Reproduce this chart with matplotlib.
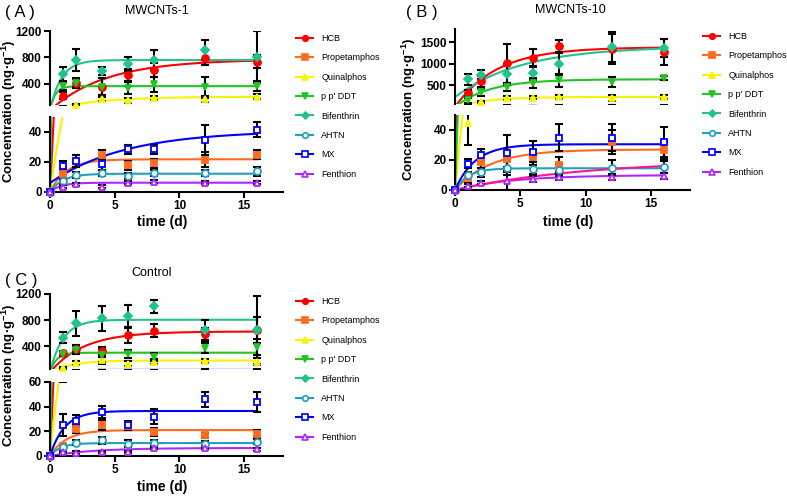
import numpy as np
import matplotlib
matplotlib.use("Agg")
from matplotlib import pyplot as plt
from matplotlib.lines import Line2D

plt.rcParams['font.family'] = ['Liberation Sans', 'DejaVu Sans']
plt.rcParams['mathtext.fontset'] = 'custom'
plt.rcParams['mathtext.rm'] = 'Liberation Sans:bold'
plt.rcParams['mathtext.default'] = 'rm'

days = [0, 1, 2, 4, 6, 8, 12, 16]
compounds = ["HCB", "Propetamphos", "Quinalphos", "p p' DDT", "Bifenthrin", "AHTN", "MX", "Fenthion"]

# panel A (MWCNTs-1), one row per compound
a_means = [[0, 222, 418, 360, 533, 609, 795, 735],
           [0, 12, 21, 24.9, 18, 19.2, 21.5, 25],
           [0, 60, 80, 171, 151, 192, 171, 206],
           [0, 367, 410, 360, 342, 393, 350, 367],
           [0, 548, 760, 600, 700, 760, 915, 810],
           [0, 7.5, 11.3, 12.4, 10.4, 12.4, 12.4, 13.8],
           [0, 17.6, 20.6, 18.8, 28.5, 28.5, 34.6, 41.4],
           [0, 3.4, 5.2, 3.6, 6.1, 6.8, 6.3, 6.3]]
a_errs = [[0, 50, 70, 130, 90, 110, 110, 100],
          [0, 4, 4, 3, 3, 3, 5, 3],
          [0, 8, 20, 30, 40, 30, 50, 40],
          [0, 60, 70, 130, 90, 110, 160, 80],
          [0, 100, 160, 60, 100, 150, 150, 390],
          [0, 2, 2, 2, 2, 2, 2, 3],
          [0, 3, 4, 4, 3, 3, 10, 5],
          [0, 1, 1, 1, 1, 1, 1, 1]]
# fitted first-order curves: (start, plateau, rate)
a_fit = [(0, 770, 0.23), (0, 21.8, 0.8), (0, 205, 0.29), (0, 365, 2.5),
         (0, 760, 1.15), (0, 12.2, 1.0), (6, 41, 0.173), (0, 6.2, 1.2)]

# panel B (MWCNTs-10)
b_means = [[0, 323, 592, 1008, 1138, 1400, 1346, 1270],
           [0, 8, 19, 20.5, 22, 17, 32, 27],
           [0, 45, 115, 208, 215, 231, 208, 231],
           [0, 154, 346, 462, 554, 615, 577, 677],
           [0, 640, 746, 754, 785, 1000, 1385, 1361],
           [0, 10, 12, 14.7, 14, 13.6, 15, 15.2],
           [0, 17.6, 23.3, 24.9, 25.5, 34.8, 35, 31.7],
           [0, 2.7, 5, 6.1, 7.5, 9, 9, 9.6]]
b_errs = [[0, 60, 120, 450, 200, 150, 350, 300],
          [0, 3, 4, 5, 5, 5, 8, 6],
          [0, 15, 20, 40, 30, 50, 60, 40],
          [0, 60, 80, 100, 110, 150, 120, 50],
          [0, 130, 110, 250, 150, 270, 345, 200],
          [0, 2, 3, 5, 3, 4, 5, 4],
          [0, 3, 4, 12, 7, 9, 9, 10],
          [0, 1, 1, 6, 2, 2, 2, 2]]
b_fit = [(0, 1380, 0.31), (0, 27, 0.37), (0, 235, 0.4), (0, 640, 0.38),
         (230, 1400, 0.195), (0, 14.5, 1.0), (0, 30.5, 0.65), (0, 10, 0.23)]
b_extra_fit = (0, 20, 0.1)

# panel C (Control)
c_means = [[0, 290, 364, 328, 574, 636, 585, 646],
           [0, 8, 22, 25, 24.2, 19.6, 17, 18.2],
           [0, 72, 148, 184, 133, 164, 174, 164],
           [0, 287, 338, 262, 277, 236, 369, 390],
           [0, 533, 749, 826, 856, 1015, 646, 646],
           [0, 7.3, 10.9, 12.8, 10.1, 10.9, 10.1, 11.4],
           [0, 25, 28.6, 35.6, 25, 31.8, 46, 44],
           [0, 3.3, 2.7, 3.3, 3.3, 6.5, 6.5, 5.4]]
c_errs = [[0, 40, 60, 60, 120, 100, 100, 200],
          [0, 2, 3, 4, 3, 3, 2, 3],
          [0, 12, 30, 50, 40, 40, 30, 50],
          [0, 40, 60, 100, 60, 60, 80, 120],
          [0, 90, 190, 190, 180, 100, 150, 520],
          [0, 2, 2, 3, 3, 2, 2, 2],
          [0, 9, 5, 5, 3, 6, 6, 8],
          [0, 1, 1, 1, 1, 1, 1, 1]]
c_fit = [(0, 625, 0.38), (0, 21, 0.8), (0, 180, 0.6), (0, 300, 2.0),
         (0, 805, 1.0), (0, 10.5, 1.2), (0, 36.5, 0.9), (0, 6.5, 0.3)]

colors = ['#ff0000', '#ff6a1f', '#f5f500', '#22c322', '#21c38a', '#20a0c0', '#0000ff', '#b026ff']
markers = ['o', 's', '^', 'v', 'D', 'o', 's', '^']
filled = [True, True, True, True, True, False, False, False]

W, H = 787.0, 496.0


def box(x0, x1, ytop, ybot):
    return [x0 / W, 1 - ybot / H, (x1 - x0) / W, (ybot - ytop) / H]


def fit_curve(t, p):
    y0, ceq, k = p
    return y0 + (ceq - y0) * (1 - np.exp(-k * t))


def style(ax, bottom):
    for s in ['top', 'right']:
        ax.spines[s].set_visible(False)
    ax.spines['left'].set_linewidth(1.5)
    ax.spines['bottom'].set_linewidth(1.5)
    ax.tick_params(width=1.5, length=4, labelsize=8.5, pad=2)
    for lab in ax.get_yticklabels() + ax.get_xticklabels():
        lab.set_fontweight('bold')
    if not bottom:
        ax.spines['bottom'].set_visible(False)
        ax.set_xticks([])


def draw(ax, means, errs, fits, lo, hi, extra=None):
    tt = np.linspace(0, 16, 400)
    t = np.array(days)
    for i in range(len(compounds)):
        m = np.array(means[i], float)
        e = np.array(errs[i], float)
        ax.plot(tt, fit_curve(tt, fits[i]), color=colors[i], lw=1.5, zorder=2)
        ax.errorbar(t[1:], m[1:], yerr=e[1:], fmt='none', ecolor='black',
                    elinewidth=1.5, capsize=3, capthick=1.5, zorder=3)
        inside = (m >= lo) & (m <= hi)
        ax.plot(t[inside], m[inside], linestyle='none', marker=markers[i],
                ms=4 if markers[i] == 'D' else 5,
                color=colors[i], mfc=colors[i] if filled[i] else 'white',
                mew=1.3, zorder=4, clip_on=False)
    if extra is not None:
        ax.plot(tt, fit_curve(tt, extra), color='#ff1493', lw=1.5, zorder=2)
    ax.set_xlim(0, 18)
    ax.set_ylim(lo, hi)


fig = plt.figure(figsize=(7.87, 4.96), dpi=100)

panels = [
    dict(tag='( A )', title='MWCNTs-1', means=a_means, errs=a_errs, fits=a_fit, extra=None,
         x=(50, 283), top=(31, 105, 80, 1200, [400, 800, 1200]),
         bot=(117, 192, 50, [0, 20, 40]), tagxy=(5, 12), titlexy=(157, 11),
         ylabx=9, xlaby=222, leg=(296, 34)),
    dict(tag='( B )', title='MWCNTs-10', means=b_means, errs=b_errs, fits=b_fit, extra=b_extra_fit,
         x=(455, 690), top=(29, 104, 70, 1800, [500, 1000, 1500]),
         bot=(115, 190, 50, [0, 20, 40]), tagxy=(406, 12), titlexy=(570, 10),
         ylabx=409, xlaby=222, leg=(703, 32)),
    dict(tag='( C )', title='Control', means=c_means, errs=c_errs, fits=c_fit, extra=None,
         x=(50, 283), top=(294, 369, 50, 1200, [400, 800, 1200]),
         bot=(382, 456, 60, [0, 20, 40, 60]), tagxy=(5, 281), titlexy=(152, 273),
         ylabx=9, xlaby=487, leg=(296, 297)),
]

handles = [Line2D([], [], color=colors[i], marker=markers[i], lw=1.5,
                  ms=3.5 if markers[i] == 'D' else 4,
                  mfc=colors[i] if filled[i] else 'white', mew=1.2)
           for i in range(len(compounds))]

for p in panels:
    x0, x1 = p['x']
    ty0, ty1, tlo, thi, tticks = p['top']
    by0, by1, bhi, bticks = p['bot']

    ax_top = fig.add_axes(box(x0, x1, ty0, ty1))
    draw(ax_top, p['means'], p['errs'], p['fits'], tlo, thi, p['extra'])
    ax_top.set_yticks(tticks)
    style(ax_top, False)

    ax_bot = fig.add_axes(box(x0, x1, by0, by1))
    draw(ax_bot, p['means'], p['errs'], p['fits'], 0, bhi, p['extra'])
    ax_bot.set_yticks(bticks)
    ax_bot.set_xticks([0, 5, 10, 15])
    style(ax_bot, True)

    fig.text(p['tagxy'][0] / W, 1 - p['tagxy'][1] / H, p['tag'], fontsize=12,
             va='center', ha='left')
    fig.text(p['titlexy'][0] / W, 1 - p['titlexy'][1] / H, p['title'], fontsize=9,
             va='center', ha='center')
    fig.text((x0 + x1) / 2 / W - 0.005, 1 - p['xlaby'] / H, 'time (d)', fontsize=10,
             fontweight='bold', va='center', ha='center')
    fig.text(p['ylabx'] / W, 1 - (ty0 + by1) / 2 / H, r'Concentration (ng·g$^{-1}$)',
             fontsize=9.5, fontweight='bold', rotation=90, va='center', ha='center')

    ax_top.legend(handles, compounds, loc='upper left',
                  bbox_to_anchor=(p['leg'][0] / W, 1 - p['leg'][1] / H),
                  bbox_transform=fig.transFigure, frameon=False, fontsize=6.5,
                  handlelength=1.9, handletextpad=0.9, labelspacing=1.15,
                  borderpad=0, borderaxespad=0)

fig.savefig('out.png', dpi=100)
